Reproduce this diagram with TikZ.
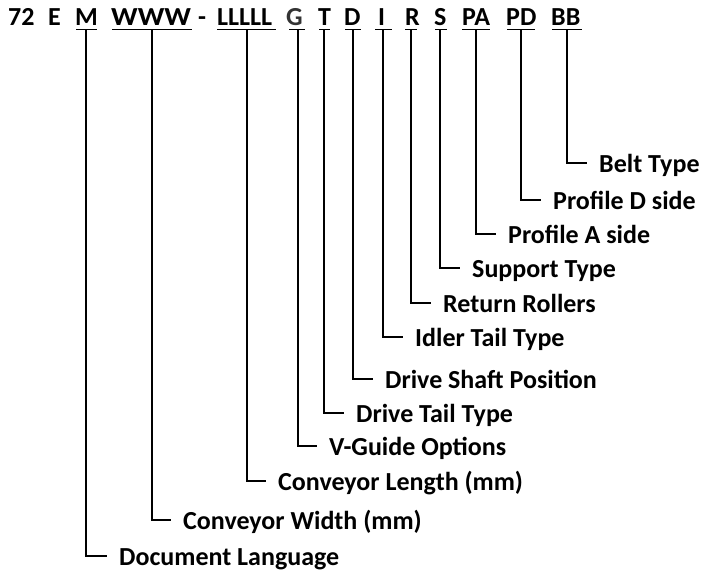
\documentclass[tikz,border=0pt]{standalone}
\usepackage{fontspec}
\setmainfont{Carlito}
\usetikzlibrary{calc}
\begin{document}
\begin{tikzpicture}[x=1pt,y=-1pt,
  tok/.style={anchor=base west,inner sep=0pt,font=\fontsize{26}{31}\selectfont\bfseries},
  lbl/.style={anchor=base west,inner xsep=12pt,inner ysep=0pt,font=\fontsize{26}{31}\selectfont\bfseries},
  conn/.style={line width=1.8pt,black},
  uline/.style={line width=1.8pt,black}]
\useasboundingbox (0,0) rectangle (702,571);
% top tokens
\node[tok] (t72) at (8,25) {72};
\node[tok] (tE) at (48,25) {E};
\node[tok] (tM) at (75,25) {M};
\node[tok] (tW) at (111,25) {\scalebox{1.13}[1]{WWW}};
\node[tok] (tdash) at (198,25) {-};
\node[tok] (tL) at (217,25) {LLLLL};
\node[tok,text=black!80] (tG) at (286,25) {G};
\node[tok] (tT) at (318,25) {T};
\node[tok] (tD) at (344,25) {D};
\node[tok] (tI) at (378,25) {I};
\node[tok] (tR) at (405,25) {R};
\node[tok] (tS) at (434,25) {S};
\node[tok] (tPA) at (462,25) {PA};
\node[tok] (tPD) at (506,25) {PD};
\node[tok] (tBB) at (551,25) {BB};
% underline tops
\foreach \n/\a/\b/\v in {M/76/97/86, W/112/192/152, L/217/276/247, G/289/305/298, T/319/330/324, D/345/361/353, I/375/392/383, R/405/417/411, S/435/447/440, PA/462/490/476, PD/507/535/521, BB/552/582/567}{
  \draw[uline] (\a,29.5) -- (\b,29.5);
  \coordinate (u\n) at (\v,29.5);
}
% labels
\node[lbl] (lBB) at (587,172) {Belt Type};
\node[lbl] (lPD) at (541,209) {Profile D side};
\node[lbl] (lPA) at (496,243) {Profile A side};
\node[lbl] (lS) at (460,277) {Support Type};
\node[lbl] (lR) at (431,312) {Return Rollers};
\node[lbl] (lI) at (403,346) {Idler Tail Type};
\node[lbl] (lD) at (373,388) {Drive Shaft Position};
\node[lbl] (lT) at (344,422) {Drive Tail Type};
\node[lbl] (lG) at (317,455) {V-Guide Options};
\node[lbl] (lL) at (266,490) {Conveyor Length (mm)};
\node[lbl] (lW) at (171,529) {Conveyor Width (mm)};
\node[lbl] (lM) at (107,565) {Document Language};
% connectors
\foreach \n in {BB,PD,PA,S,R,I,D,T,G,L,W,M}{
  \draw[conn] (u\n) |- ([yshift=9pt]l\n.base west);
}
\end{tikzpicture}
\end{document}
